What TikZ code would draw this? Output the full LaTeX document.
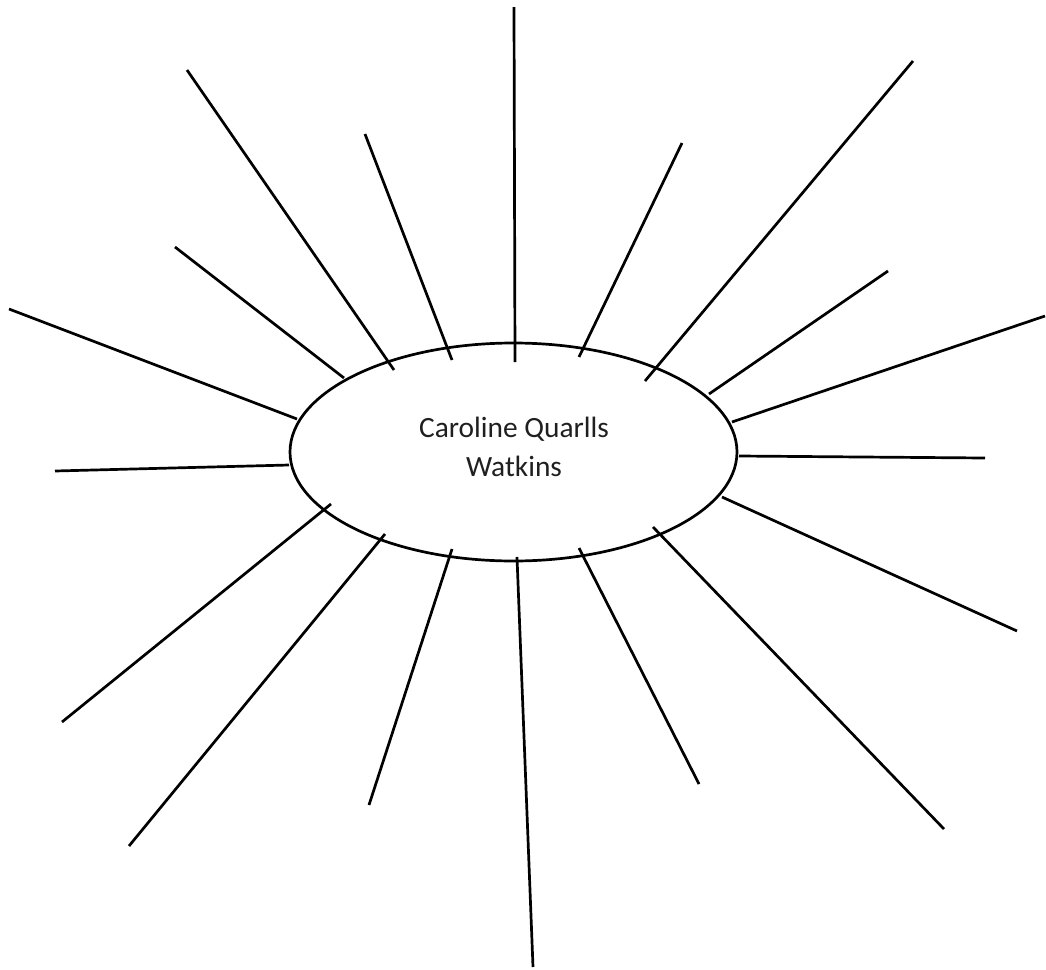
\documentclass[tikz,border=0pt]{standalone}
\usepackage{fontspec}
\setmainfont{Carlito}
\usepackage{tikz}
\usetikzlibrary{shapes.geometric}

\begin{document}
\begin{tikzpicture}[x=0.5pt, y=-0.5pt,
  spoke/.style={draw, black, line width=1.35pt},
  oval/.style={ellipse, draw, line width=1.35pt, inner sep=0pt, minimum width=223.5pt, minimum height=109pt},
  label/.style={align=center, text=black!88, font=\fontsize{14.7}{19.2}\selectfont}]
\useasboundingbox (0,0) rectangle (1046,970);
\foreach \ix/\iy/\ox/\oy [count=\k] in {
  515/362/514/7, 452/360/365/134, 394/370/187/70, 344/378/175/247,
  297/419/9/309, 289/465/55/471, 331/504/62/722, 385/534/129/846,
  452/549/369/805, 517/557/533/967, 579/548/699/784, 653/527/944/829,
  722/497/1017/631, 739/456/985/458, 732/422/1045/316, 709/394/888/271,
  645/381/913/61, 579/357/682/143}
{
  \coordinate (in\k) at (\ix,\iy);
  \coordinate (out\k) at (\ox,\oy);
  \draw[spoke] (in\k) -- (out\k);
}
\node[oval] (hub) at (513.5,452) {};
\node[label] (name) at (514,447) {Caroline Quarlls\\Watkins};
\end{tikzpicture}
\end{document}
